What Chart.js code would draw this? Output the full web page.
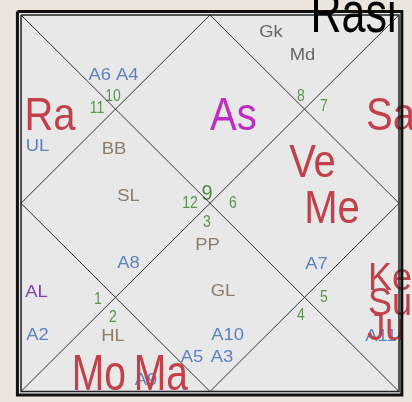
<!DOCTYPE html>
<html><head><meta charset="utf-8">
<script src="https://cdn.jsdelivr.net/npm/chart.js@4.4.1/dist/chart.umd.min.js"></script>
<style>html,body{margin:0;padding:0;background:#ebe5de;}canvas{display:block;}</style>
</head><body>
<canvas id="c" width="412" height="402"></canvas>
<script>
// ---- chart data (square house grid spans 0..100 in both axes) ----
const titleText = ['Rasi'];
const titleX = [87.96];
const titleY = [4.6];

// house (sign) numbers
const signLabels = ['10','11','8','7','12','6','3','1','2','5','4'];
const signX = [24.34, 20.1, 74.07, 80.16, 44.71, 56.08, 49.2, 20.37, 24.34, 80.16, 74.07];
const signY = [22.97, 26.16, 22.71, 25.37, 51.13, 51.13, 56.18, 76.63, 81.41, 76.1, 80.88];
const ascSign = ['9'];
const ascSignX = [49.2];
const ascSignY = [49.14];

// grahas
const planetLabels = ['Ra','Sa','Ve','Me'];
const planetX = [7.67, 97.75, 77.12, 82.28];
const planetY = [30.54, 30.54, 43.03, 55.25];
const lagnaLabels = ['As'];
const lagnaX = [56.2];
const lagnaY = [30.54];
const groupLabels = ['Ke','Su','Ju'];
const groupX = [97.6, 97.6, 96.6];
const groupY = [73.04, 79.68, 86.32];
const bottomLabels = ['Mo','Ma'];
const bottomX = [20.6, 37.0];
const bottomY = [99.6, 99.6];

// arudha padas
const padaLabels = ['A6 A4','UL','A8','A7','A2','A10','A3','A5','A11','A9'];
const padaX = [24.47, 4.37, 28.44, 78.17, 4.37, 54.63, 53.17, 45.24, 95.24, 33.07];
const padaY = [17.26, 36.12, 67.2, 67.46, 86.32, 86.32, 92.16, 92.16, 86.59, 98.27];
// special lagnas
const lagnaSpecLabels = ['BB','SL','PP','GL','HL'];
const lagnaSpecX = [24.6, 28.44, 49.34, 53.44, 24.34];
const lagnaSpecY = [36.92, 49.4, 62.42, 74.63, 86.59];
const upaLabels = ['Gk','Md'];
const upaX = [66.14, 74.47];
const upaY = [5.84, 11.95];
const alLabels = ['AL'];
const alX = [4.1];
const alY = [74.9];

// grid geometry in chart units
const squareX = [0, 100, 100, 0, 0];
const squareY = [0, 0, 100, 100, 0];
const frameX = [-0.95, 100.75, 100.75, -0.95, -0.95];
const frameY = [-0.95, -0.95, 100.95, 100.95, -0.95];
const diag1X = [0, 100], diag1Y = [0, 100];
const diag2X = [100, 0], diag2Y = [0, 100];
const diamondX = [50, 100, 50, 0, 50];
const diamondY = [0, 50, 100, 50, 0];

// ---- helpers ----
const pts = (xs, ys) => xs.map((v, i) => ({x: v, y: ys[i]}));
const lineDs = (xs, ys, w, color) => ({
  data: pts(xs, ys), showLine: true, pointRadius: 0, pointHoverRadius: 0,
  borderColor: color, borderWidth: w, fill: false, tension: 0, clip: false
});
const textDs = (labels, xs, ys, style, layer) => ({
  data: pts(xs, ys), labels: labels, textStyle: style, layer: layer || 'under',
  showLine: false, pointRadius: 0, pointHoverRadius: 0, clip: false
});

const FONT = '"Liberation Sans", Arial, sans-serif';
const styles = {
  title:  {font: '43px ' + FONT, color: '#000000', sx: 1, sy: 1.32},
  planet: {font: '40px ' + FONT, color: '#c2404a', sx: 1, sy: 1.15},
  lagna:  {font: '40px ' + FONT, color: '#c02cc0', sx: 1, sy: 1.15},
  group:  {font: '36px ' + FONT, color: '#c2404a', sx: 1, sy: 1.1},
  bottom: {font: '39px ' + FONT, color: '#c2404a', sx: 1, sy: 1.28},
  pada:   {font: '16px ' + FONT, color: '#5f80c0', sx: 1.15, sy: 1},
  spec:   {font: '16px ' + FONT, color: '#8c7c6c', sx: 1.15, sy: 1},
  upa:    {font: '16px ' + FONT, color: '#666666', sx: 1.15, sy: 1},
  al:     {font: '16px ' + FONT, color: '#8040b8', sx: 1.15, sy: 1},
  sign:   {font: '14px ' + FONT, color: '#5e9050', sx: 1, sy: 1.15},
  asc:    {font: '20px ' + FONT, color: '#4e9040', sx: 1, sy: 1.1}
};

function drawTexts(chart, layer) {
  const ctx = chart.ctx;
  chart.data.datasets.forEach((ds, i) => {
    if (!ds.textStyle || ds.layer !== layer) return;
    const meta = chart.getDatasetMeta(i);
    const st = ds.textStyle;
    meta.data.forEach((el, j) => {
      ctx.save();
      ctx.translate(el.x, el.y);
      ctx.scale(st.sx, st.sy);
      ctx.font = st.font;
      ctx.fillStyle = st.color;
      ctx.textAlign = 'center';
      ctx.textBaseline = 'alphabetic';
      ctx.fillText(ds.labels[j], 0, 0);
      ctx.restore();
    });
  });
}

const chartPlugin = {
  id: 'rasiChart',
  beforeDraw(chart) {
    const ctx = chart.ctx, xs = chart.scales.x, ys = chart.scales.y;
    ctx.save();
    ctx.fillStyle = '#ebe5de';
    ctx.fillRect(0, 0, chart.width, chart.height);
    const l = xs.getPixelForValue(frameX[0]), r = xs.getPixelForValue(frameX[1]);
    const t = ys.getPixelForValue(frameY[0]), b = ys.getPixelForValue(frameY[2]);
    ctx.fillStyle = '#e8e8e8';
    ctx.fillRect(l, t, r - l, b - t);
    ctx.restore();
  },
  beforeDatasetsDraw(chart) { drawTexts(chart, 'under'); },
  afterDatasetsDraw(chart) { drawTexts(chart, 'over'); }
};

new Chart(document.getElementById('c'), {
  type: 'scatter',
  data: {
    datasets: [
      textDs(padaLabels, padaX, padaY, styles.pada),
      textDs(lagnaSpecLabels, lagnaSpecX, lagnaSpecY, styles.spec),
      textDs(upaLabels, upaX, upaY, styles.upa),
      textDs(alLabels, alX, alY, styles.al),
      textDs(signLabels, signX, signY, styles.sign),
      textDs(ascSign, ascSignX, ascSignY, styles.asc),
      textDs(planetLabels, planetX, planetY, styles.planet),
      textDs(lagnaLabels, lagnaX, lagnaY, styles.lagna),
      textDs(groupLabels, groupX, groupY, styles.group),
      textDs(bottomLabels, bottomX, bottomY, styles.bottom),
      lineDs(frameX, frameY, 3, '#111111'),
      lineDs(squareX, squareY, 1.5, '#222222'),
      lineDs(diag1X, diag1Y, 1, '#333333'),
      lineDs(diag2X, diag2Y, 1, '#333333'),
      lineDs(diamondX, diamondY, 1, '#333333'),
      textDs(titleText, titleX, titleY, styles.title, 'over')
    ]
  },
  options: {
    responsive: false,
    devicePixelRatio: 1,
    animation: false,
    layout: {padding: 0},
    plugins: {legend: {display: false}, tooltip: {enabled: false}, title: {display: false}},
    events: [],
    scales: {
      x: {type: 'linear', display: false, min: -5.556, max: 103.44},
      y: {type: 'linear', display: false, min: -3.984, max: 102.79, reverse: true}
    }
  },
  plugins: [chartPlugin]
});
</script>
</body></html>
